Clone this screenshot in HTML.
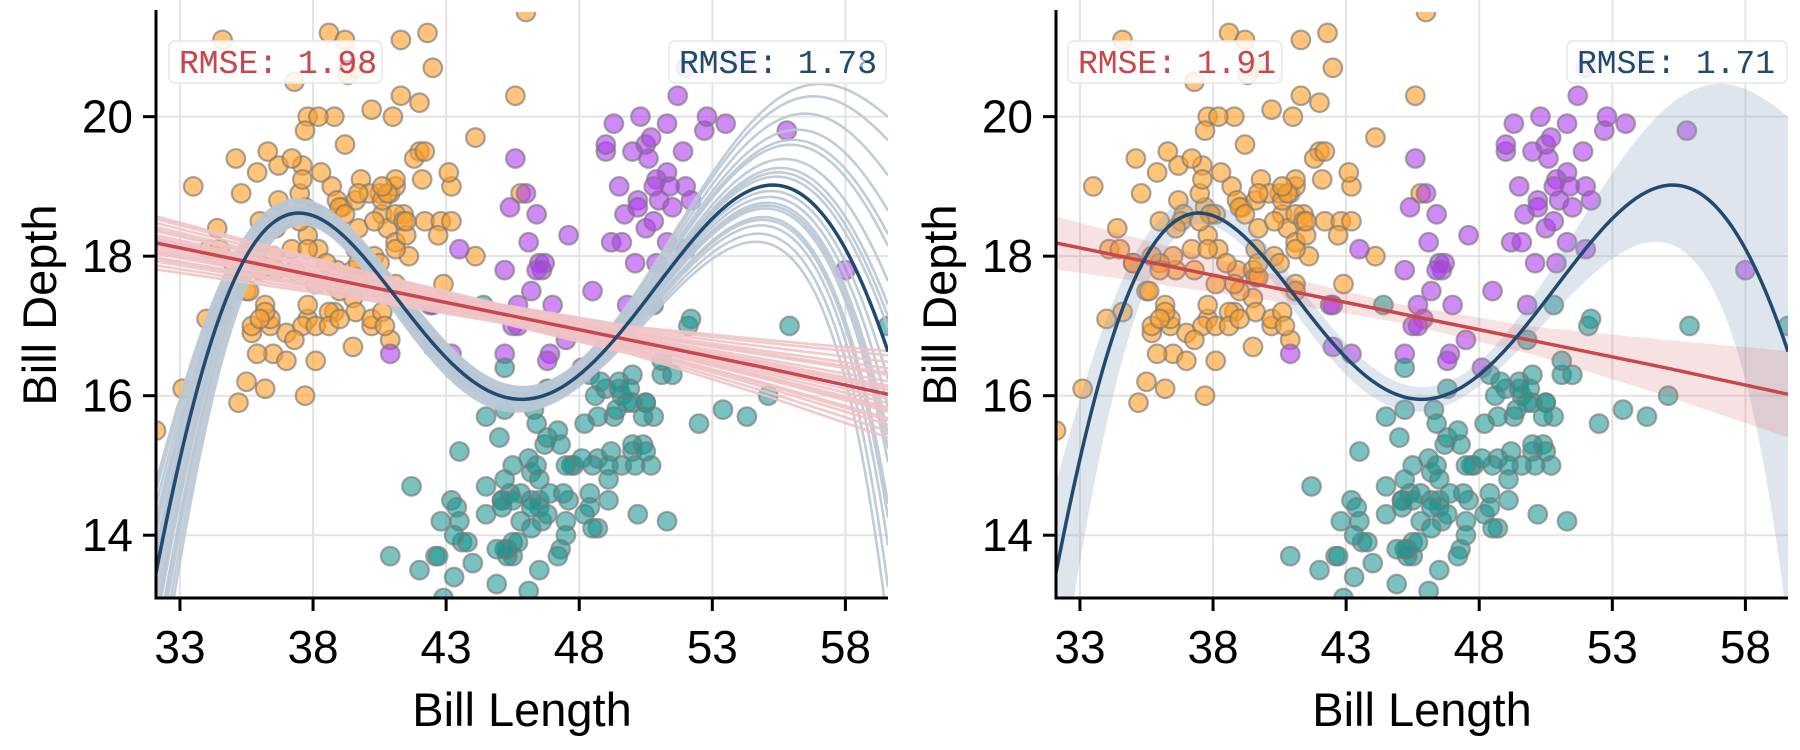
<!DOCTYPE html>
<html><head><meta charset="utf-8">
<style>
html,body{margin:0;padding:0;background:#fff;}
svg{display:block;font-family:"Liberation Sans",Arial,sans-serif;}
</style></head>
<body>
<svg id="chart" width="1800" height="750" viewBox="0 0 1800 750" xmlns="http://www.w3.org/2000/svg"></svg>
<script>
// ---------- DATA ----------
const adelie = [[39.1,18.7],[39.5,17.4],[40.3,18],[36.7,19.3],[39.3,20.6],[38.9,17.8],[39.2,19.6],[34.1,18.1],[42,20.2],[37.8,17.1],[37.8,17.3],[41.1,17.6],[38.6,21.2],[34.6,21.1],[36.6,17.8],[38.7,19],[42.5,20.7],[34.4,18.4],[46,21.5],[37.8,18.3],[37.7,18.7],[35.9,19.2],[38.2,18.1],[38.8,17.2],[35.3,18.9],[40.6,18.6],[40.5,17.9],[37.9,18.6],[40.5,18.9],[39.5,16.7],[37.2,18.1],[39.5,17.8],[40.9,18.9],[36.4,17],[39.2,21.1],[38.8,20],[42.2,18.5],[37.6,19.3],[39.8,19.1],[36.5,18],[40.8,18.4],[36,18.5],[44.1,19.7],[37,16.9],[39.6,18.8],[41.1,19],[37.5,18.9],[36,17.9],[42.3,21.2],[39.6,17.7],[40.1,18.9],[35,17.9],[42,19.5],[34.5,18.1],[41.4,18.6],[39,17.5],[40.6,18.8],[36.5,16.6],[37.6,19.1],[35.7,16.9],[41.3,21.1],[37.6,17],[41.1,18.2],[36.4,17.1],[41.6,18],[35.5,16.2],[41.1,19.1],[35.9,16.6],[41.8,19.4],[33.5,19],[39.7,18.4],[39.6,17.2],[45.8,18.9],[35.5,17.5],[42.8,18.5],[40.9,16.8],[37.2,19.4],[36.2,16.1],[42.1,19.1],[34.6,17.2],[42.9,17.6],[36.7,18.8],[35.1,19.4],[37.3,17.8],[41.3,20.3],[36.3,19.5],[36.9,18.6],[38.3,19.2],[38.9,18.8],[35.7,18],[41.1,18.1],[34,17.1],[39.6,18.1],[36.2,17.3],[40.8,18.9],[38.1,18.6],[40.3,18.5],[33.1,16.1],[43.2,18.5],[35,17.9],[41,20],[37.7,16],[37.8,20],[37.9,18.6],[39.7,18.9],[38.6,17.2],[38.2,20],[38.1,17],[43.2,19],[38.1,16.5],[45.6,20.3],[39.7,17.7],[42.2,19.5],[39.6,20.7],[42.7,18.3],[38.6,17],[37.3,20.5],[35.7,17],[41.1,18.6],[36.2,17.2],[37.7,19.8],[40.2,17],[41.4,18.5],[35.2,15.9],[40.6,19],[38.8,17.6],[41.5,18.3],[39,17.1],[44.1,18],[38.5,17.9],[43.1,19.2],[36.8,18.5],[37.5,18.5],[38.1,17.6],[41.1,17.5],[35.6,17.5],[40.2,20.1],[37,16.5],[39.7,17.9],[40.2,17.1],[40.6,17.2],[32.1,15.5],[40.7,17],[37.3,16.8],[39,18.7],[39.2,18.6],[36.6,18.4],[36,17.8],[37.8,18.1],[36,17.1],[41.5,18.5]];
const chinstrap = [[46.5,17.9],[50,19.5],[51.3,19.2],[45.4,18.7],[52.7,19.8],[45.2,17.8],[46.1,18.2],[51.3,18.2],[46,18.9],[51.3,19.9],[46.6,17.8],[51.7,20.3],[47,17.3],[52,18.1],[45.9,17.1],[50.5,19.6],[50.3,20],[58,17.8],[46.4,18.6],[49.2,18.2],[42.4,17.3],[48.5,17.5],[43.2,16.6],[50.6,19.4],[46.7,17.9],[52,19],[50.5,18.4],[49.5,19],[46.4,17.8],[52.8,20],[40.9,16.6],[54.2,20.8],[42.5,16.7],[51,18.8],[49.7,18.6],[47.5,16.8],[47.6,18.3],[52,20.7],[46.9,16.6],[53.5,19.9],[49,19.5],[46.2,17.5],[50.9,19.1],[45.5,17],[50.9,17.9],[50.8,18.5],[50.1,17.9],[49,19.6],[51.5,18.7],[49.8,17.3],[48.1,16.4],[51.4,19],[45.7,17.3],[50.7,19.7],[42.5,17.3],[52.2,18.8],[45.2,16.6],[49.3,19.9],[50.2,18.8],[45.6,19.4],[51.9,19.5],[46.8,16.5],[45.7,17],[55.8,19.8],[43.5,18.1],[49.6,18.2],[50.8,19],[50.2,18.7]];
const gentoo = [[46.1,13.2],[50,16.3],[48.7,14.1],[50,15.2],[47.6,14.5],[46.5,13.5],[45.4,14.6],[46.7,15.3],[43.3,13.4],[46.8,15.4],[40.9,13.7],[49,16.1],[45.5,13.7],[48.4,14.6],[45.8,14.6],[49.3,15.7],[42,13.5],[49.2,15.2],[46.2,14.5],[48.7,15.1],[50.2,14.3],[45.1,14.5],[46.5,14.5],[46.3,15.8],[42.9,13.1],[46.1,15.1],[44.5,14.3],[47.8,15],[48.2,14.3],[50,15.3],[47.3,15.3],[42.8,14.2],[45.1,14.5],[59.6,17],[49.1,14.8],[48.4,16.3],[42.6,13.7],[44.4,17.3],[44,13.6],[48.7,15.7],[42.7,13.7],[49.6,16],[45.3,13.7],[49.6,15],[50.5,15.9],[43.6,13.9],[45.5,13.9],[50.5,15.9],[44.9,13.3],[45.2,15.8],[46.6,14.2],[48.5,14.1],[45.1,14.4],[50.1,15],[46.5,14.4],[45,15.4],[43.8,13.9],[45.5,15],[43.2,14.5],[50.4,15.3],[45.3,13.8],[46.2,14.9],[45.7,13.9],[54.3,15.7],[45.8,14.2],[49.8,16.8],[46.2,14.4],[49.5,16.2],[43.5,14.2],[50.7,15],[47.7,15],[46.4,15.6],[48.2,15.6],[46.5,14.8],[46.4,15],[48.6,16],[47.5,14.2],[51.1,16.3],[45.2,13.8],[45.2,16.4],[49.1,14.5],[52.5,15.6],[47.4,14.6],[50,15.9],[44.9,13.8],[50.8,17.3],[43.4,14.4],[51.3,14.2],[47.5,14],[52.1,17],[47.5,15],[52.2,17.1],[45.5,14.5],[49.5,16.1],[44.5,14.7],[50.8,15.7],[49.4,15.8],[46.9,14.6],[48.4,14.4],[51.1,16.5],[48.5,15],[55.9,17],[47.2,15.5],[49.1,15],[47.3,13.8],[46.8,16.1],[41.7,14.7],[53.4,15.8],[43.3,14],[48.1,15.1],[50.5,15.2],[49.8,15.9],[43.5,15.2],[51.5,16.3],[46.2,14.1],[55.1,16],[44.5,15.7],[48.8,16.2],[47.2,13.7],[46.8,14.3],[50.4,15.7],[45.2,14.8],[49.9,16.1]];

const fitX  = [32.1,33,34,35,36,37,38,39,40,41,42,43,44,45,46,47,48,49,50,51,52,53,54,55,56,57,58,59,59.6];
const fitY  = [13.55,14.95,16.47,17.76,18.38,18.62,18.55,18.24,17.9,17.48,16.99,16.52,16.23,16.06,15.99,16.05,16.3,16.65,17.06,17.6,18.12,18.55,18.84,19.0,19.02,18.75,18.0,17.2,16.7];
const fitHi = [1.3,0.85,0.55,0.35,0.25,0.22,0.2,0.2,0.2,0.2,0.2,0.2,0.2,0.2,0.2,0.2,0.2,0.22,0.25,0.3,0.45,0.7,0.95,1.2,1.35,1.6,2.4,3.0,3.3];
const fitLo = [1.9,1.7,0.85,0.5,0.3,0.24,0.22,0.2,0.2,0.2,0.2,0.2,0.2,0.2,0.2,0.2,0.2,0.22,0.25,0.3,0.4,0.55,0.75,0.9,0.95,1.3,1.9,2.9,4.0];
// bootstrap coefficients (fraction of band)
const bootCoef = [-1.0,-0.85,-0.7,-0.55,-0.4,-0.3,-0.2,-0.1,0.1,0.2,0.3,0.45,0.6,0.75,0.9,1.0,-0.6,0.5,0.15,-0.35];
// linear fit (red)
const linX  = [32.1,40,45,50,55,59.6];
const linY  = [18.19,17.57,17.18,16.79,16.4,16.02];
const linBand = [0.38,0.2,0.13,0.2,0.4,0.62];
const rmseLeft = ["1.98","1.93","1.88"];
const rmseRight = ["1.73","1.78"];
const rmseLeft2 = "1.91";
const rmseRight2 = "1.71";
const xTicks = [33,38,43,48,53,58];
const yTicks = [14,16,18,20];

// ---------- HELPERS ----------
const NS = "http://www.w3.org/2000/svg";
const svg = document.getElementById("chart");
function mk(tag, attrs, parent){
  const e = document.createElementNS(NS, tag);
  for (const k in attrs) e.setAttribute(k, attrs[k]);
  (parent||svg).appendChild(e);
  return e;
}
const X0=32.1, X1=59.6, Y0=13.1, Y1=21.5, TOP=12, BOT=598, W=732;
const DEG = 7;
const nx = x => (x-(X0+X1)/2)/((X1-X0)/2);
function polyFit(xa, ya){
  const n = DEG+1;
  const A = Array.from({length:n},()=>new Array(n+1).fill(0));
  xa.forEach((x,i)=>{
    const t = nx(x); const p=[]; for(let k=0;k<n;k++) p.push(Math.pow(t,k));
    for(let r=0;r<n;r++){ for(let c=0;c<n;c++) A[r][c]+=p[r]*p[c]; A[r][n]+=p[r]*ya[i]; }
  });
  for(let c=0;c<n;c++){
    let piv=c; for(let r=c+1;r<n;r++) if(Math.abs(A[r][c])>Math.abs(A[piv][c])) piv=r;
    [A[c],A[piv]]=[A[piv],A[c]];
    for(let r=0;r<n;r++){ if(r===c) continue; const f=A[r][c]/A[c][c]; for(let k=c;k<=n;k++) A[r][k]-=f*A[c][k]; }
  }
  const coef = A.map((row,i)=>row[n]/row[i]);
  return x => { const t=nx(x); let s=0; for(let k=0;k<n;k++) s+=coef[k]*Math.pow(t,k); return s; };
}
const meanF = polyFit(fitX, fitY);
const hiF = polyFit(fitX, fitY.map((v,i)=>v+fitHi[i]));
const loF = polyFit(fitX, fitY.map((v,i)=>v-fitLo[i]));
const dense = []; for(let i=0;i<=220;i++) dense.push(X0+(X1-X0)*i/220);

function panel(idx, left, bootstrap){
  const xs = v => left + (v-X0)/(X1-X0)*W;
  const ys = v => BOT - (v-Y0)/(Y1-Y0)*(BOT-TOP);
  const line = f => "M"+dense.map(x=>xs(x).toFixed(2)+","+ys(f(x)).toFixed(2)).join(" L");
  const g = mk("g", {});
  
  
  const cp = mk("clipPath", {id:"clip"+idx}, g);
  mk("rect", {x:left, y:TOP, width:W, height:BOT-TOP}, cp);

  const grid = mk("g", {}, g);
  
  
  xTicks.forEach(t=>{ mk("line",{x1:xs(t),x2:xs(t),y1:TOP-12,y2:BOT,stroke:"#e3e3e3","stroke-width":2},grid); });
  yTicks.forEach(t=>{ mk("line",{x1:left,x2:left+W,y1:ys(t),y2:ys(t),stroke:"#e3e3e3","stroke-width":2},grid); });

  const plot = mk("g", {"clip-path":"url(#clip"+idx+")"}, g);

  const pts = mk("g", {}, plot);
  
  
  const groups = [[adelie,"rgba(255,160,40,0.62)","adelie-point"],[chinstrap,"rgba(175,60,240,0.6)","chinstrap-point"],[gentoo,"rgba(25,150,145,0.58)","gentoo-point"]];
  groups.forEach(([data,fill,name])=>{
    data.forEach(d=>{
      const c = mk("circle",{cx:xs(d[0]),cy:ys(d[1]),r:9.3,fill:fill,stroke:"rgba(120,120,120,0.65)","stroke-width":2.2},pts);
      
      
    });
  });

  if (bootstrap){
    bootCoef.forEach(k=>{
      const f = x => { const m=meanF(x); return k>=0 ? m + k*(hiF(x)-m) : m + (-k)*(loF(x)-m); };
      const pa = mk("path",{d:line(f),fill:"none",stroke:"#b9c7d4","stroke-width":2.6,opacity:0.9},plot);
      
      
    });
    bootCoef.forEach(k=>{
      const p = linX.map((x,i)=>[xs(x), ys(linY[i] + k*linBand[i])]);
      const pa = mk("path",{d:"M"+p.map(q=>q.join(",")).join(" L"),fill:"none",stroke:"#f0c3c5","stroke-width":2.6,opacity:0.9},plot);
      
      
    });
  } else {
    const up = dense.map(x=>xs(x).toFixed(2)+","+ys(hiF(x)).toFixed(2));
    const dn = dense.slice().reverse().map(x=>xs(x).toFixed(2)+","+ys(loF(x)).toFixed(2));
    const b = mk("path",{d:"M"+up.concat(dn).join(" L")+" Z",fill:"rgba(140,160,185,0.28)",stroke:"none"},plot);
    
    
    const lu = linX.map((x,i)=>[xs(x), ys(linY[i]+linBand[i])]);
    const ld = linX.map((x,i)=>[xs(x), ys(linY[i]-linBand[i])]).reverse();
    const rb = mk("path",{d:"M"+lu.concat(ld).map(q=>q.join(",")).join(" L")+" Z",fill:"rgba(215,110,115,0.2)",stroke:"none"},plot);
    
    
  }
  const lp = linX.map((x,i)=>[xs(x), ys(linY[i])]);
  const ll = mk("path",{d:"M"+lp.map(q=>q.join(",")).join(" L"),fill:"none",stroke:"#c8474c","stroke-width":3.5},plot);
  
  
  const fl = mk("path",{d:line(meanF),fill:"none",stroke:"#214a70","stroke-width":3.5},plot);
  
  

  const ax = mk("g", {}, g);
  
  
  mk("line",{x1:left,x2:left,y1:TOP-2,y2:BOT+1.5,stroke:"#000","stroke-width":3},ax);
  mk("line",{x1:left-1.5,x2:left+W,y1:BOT,y2:BOT,stroke:"#000","stroke-width":3},ax);
  xTicks.forEach(t=>{
    mk("line",{x1:xs(t),x2:xs(t),y1:BOT,y2:BOT+13,stroke:"#000","stroke-width":3},ax);
    const tx = mk("text",{x:xs(t),y:663,"font-size":46,"text-anchor":"middle",fill:"#000"},ax);
    tx.textContent = t;
    
    
  });
  yTicks.forEach(t=>{
    mk("line",{x1:left-13,x2:left,y1:ys(t),y2:ys(t),stroke:"#000","stroke-width":3},ax);
    const tx = mk("text",{x:left-23,y:ys(t)+16,"font-size":46,"text-anchor":"end",fill:"#000"},ax);
    tx.textContent = t;
    
    
  });
  const xt = mk("text",{x:left+W/2,y:726,"font-size":47,"text-anchor":"middle",fill:"#000"},g);
  xt.textContent = "Bill Length";
  
  
  const yx = left-100, yy = 305;
  const yt = mk("text",{x:yx,y:yy,"font-size":47,"text-anchor":"middle",fill:"#000",transform:"rotate(-90 "+yx+" "+yy+")"},g);
  yt.textContent = "Bill Depth";
  
  

  function box(x, w, vals, color, name){
    const bg = mk("g", {}, g);
    
    
    mk("rect",{x:x,y:41,width:w,height:42,rx:6,fill:"rgba(255,255,255,0.85)",stroke:"#e6e6e6","stroke-width":1.5},bg);
    vals.forEach((v,i)=>{
      const t = mk("text",{x:x+10,y:73,"font-size":33,fill:color,"font-family":"'Liberation Mono',monospace",opacity:i===0?1:0.45},bg);
      t.textContent = "RMSE: "+v;
    });
  }
  if (bootstrap){
    box(left+13, 213, rmseLeft, "#c8474c", "linear-rmse-label");
    box(left+513, 217, rmseRight, "#214a70", "poly-rmse-label");
  } else {
    box(left+12, 214, [rmseLeft2], "#c8474c", "linear-rmse-label");
    box(left+511, 220, [rmseRight2], "#214a70", "poly-rmse-label");
  }
}
panel(0, 156, true);
panel(1, 1056, false);
</script>
</body></html>
